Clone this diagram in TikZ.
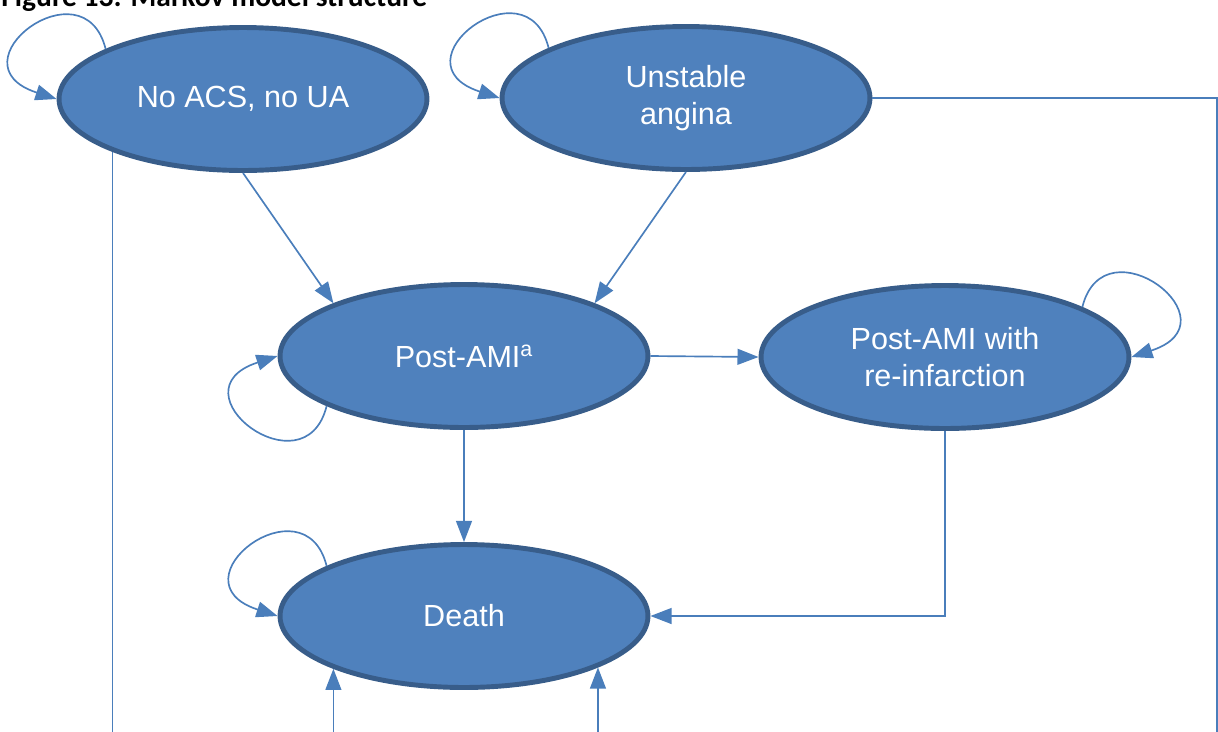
\documentclass[tikz,border=0pt]{standalone}
\usepackage{fontspec}
\setmainfont{Liberation Sans}
\newfontfamily\titlefont{Carlito}
\usetikzlibrary{arrows.meta,shapes.geometric}

\definecolor{statefill}{HTML}{4F81BD}
\definecolor{stateedge}{HTML}{385D8A}
\definecolor{linkblue}{HTML}{4A7EBB}

\tikzset{
  state/.style={ellipse, draw=stateedge, fill=statefill, line width=2.8pt,
    minimum width=7.36cm, minimum height=2.86cm, inner sep=0pt,
    text=white, align=center, font=\fontsize{17.4}{21.5}\selectfont},
  link/.style={draw=linkblue, line width=0.95pt,
    -{Triangle[length=12pt,width=9pt]}},
  plainlink/.style={draw=linkblue, line width=0.95pt}
}

\begin{document}
\begin{tikzpicture}[x=0.02cm, y=0.02cm]
  \useasboundingbox (0,0) rectangle (1218,-731);
  \clip (0,0) rectangle (1218,-731);

  % Başlık (yarısı kesik)
  \node[anchor=base west, inner sep=0pt,
    font=\titlefont\bfseries\fontsize{16.8}{20}\selectfont] (title) at (1,-6)
    {Figure 13: Markov model structure};

  % Durumlar
  \node[state] (noacs) at (243,-99) {No ACS, no UA};
  \node[state] (ua) at (686,-98) {Unstable\\angina};
  \node[state] (postami) at (464,-356) {Post-AMI\textsuperscript{a}};
  \node[state] (reinf) at (945,-357) {Post-AMI with\\re-infarction};
  \node[state] (death) at (464,-616) {Death};

  % Sayfanın altındaki dönüş noktaları
  \coordinate (below) at (0,-780);
  \coordinate (farright) at (1217,-780);

  % Geçişler
  \draw[link] (noacs.south) -- (postami.158);
  \draw[link] (ua.south) -- (postami.22);
  \draw[link] (postami.east) -- (reinf.west);
  \draw[link] (postami.south) -- (death.north);
  \draw[link] (reinf.south) |- (death.east);
  \draw[plainlink] (noacs.202) |- (death.202 |- below);
  \draw[link] (death.202 |- below) -- (death.202);
  \draw[plainlink] (ua.east) -| (farright);
  \draw[link] (farright) -| (death.339);

  % Kendine dönen oklar
  \draw[link] (noacs.160) .. controls +(-22,88) and +(-108,35) .. (noacs.west);
  \draw[link] (ua.160) .. controls +(-22,88) and +(-108,35) .. (ua.west);
  \draw[link] (postami.200) .. controls +(-22,-88) and +(-108,-35) .. (postami.west);
  \draw[link] (reinf.20) .. controls +(22,88) and +(108,35) .. (reinf.east);
  \draw[link] (death.160) .. controls +(-22,88) and +(-108,35) .. (death.west);
\end{tikzpicture}
\end{document}
